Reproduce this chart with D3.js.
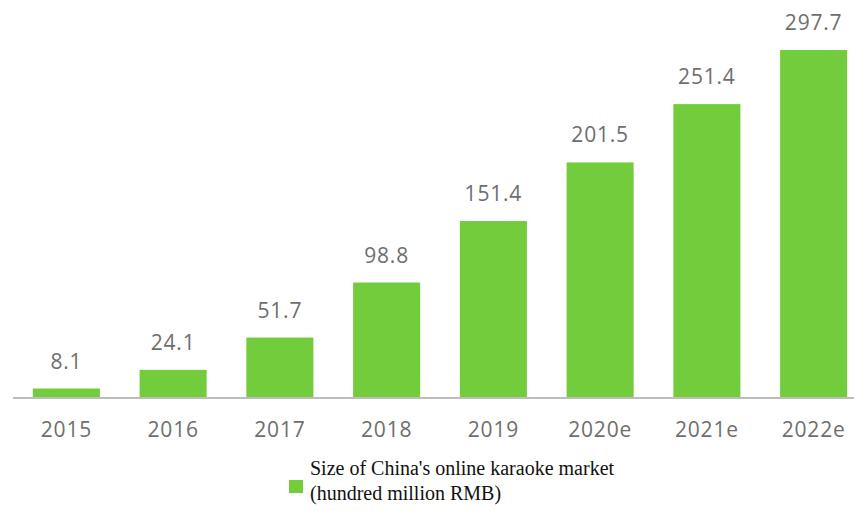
<!DOCTYPE html>
<html>
<head>
<meta charset="utf-8">
<script src="https://cdn.jsdelivr.net/npm/d3@7"></script>
<style>
  html, body { margin: 0; padding: 0; background: #fff; }
  svg { display: block; }
</style>
</head>
<body>
<svg id="chart" width="854" height="511"></svg>
<script>
// Online karaoke market size, hundred million RMB
const years = ["2015", "2016", "2017", "2018", "2019", "2020e", "2021e", "2022e"];
const values = [8.1, 24.1, 51.7, 98.8, 151.4, 201.5, 251.4, 297.7];
const legendLines = ["Size of China's online karaoke market", "(hundred million RMB)"];

const svg = d3.select("#chart");
const baseY = 398;
const barColor = "#72cc3c";
const textColor = "#6e6e6e";
const sans = "'Open Sans', 'DejaVu Sans', sans-serif";

const x = d3.scaleBand().domain(years).range([13, 867]).paddingInner(0.372).paddingOuter(0.186);
const y = d3.scaleLinear().domain([0, 297.7]).range([baseY, 50]);

// bars
svg.append("g").selectAll("rect")
  .data(values)
  .join("rect")
  .attr("x", (d, i) => x(years[i]))
  .attr("y", d => y(d))
  .attr("width", x.bandwidth())
  .attr("height", d => baseY - y(d))
  .attr("fill", barColor);

// value labels
svg.append("g").selectAll("text")
  .data(values)
  .join("text")
  .attr("x", (d, i) => x(years[i]) + x.bandwidth() / 2)
  .attr("y", d => y(d) - 20)
  .attr("text-anchor", "middle")
  .attr("font-family", sans)
  .attr("font-size", 21)
  .attr("letter-spacing", 0.8)
  .attr("fill", textColor)
  .text(d => d.toFixed(1));

// category axis
const axis = d3.axisBottom(x).tickSize(0).tickPadding(24);
const gAxis = svg.append("g").attr("transform", `translate(0,${baseY})`).call(axis);
gAxis.select(".domain").attr("d", `M13,0H854`).attr("stroke", "#bdbdbd").attr("stroke-width", 2);
gAxis.selectAll(".tick text")
  .attr("font-family", sans)
  .attr("font-size", 21)
  .attr("letter-spacing", 0.8)
  .attr("fill", textColor);

// legend
const lg = svg.append("g");
lg.append("rect").attr("x", 289).attr("y", 480).attr("width", 14).attr("height", 13).attr("fill", barColor);
lg.selectAll("text")
  .data(legendLines)
  .join("text")
  .attr("x", 310)
  .attr("y", (d, i) => 475 + i * 25)
  .attr("font-family", "'Liberation Serif', 'Times New Roman', serif")
  .attr("font-size", 20)
  .attr("fill", "#111")
  .text(d => d);
</script>
</body>
</html>
